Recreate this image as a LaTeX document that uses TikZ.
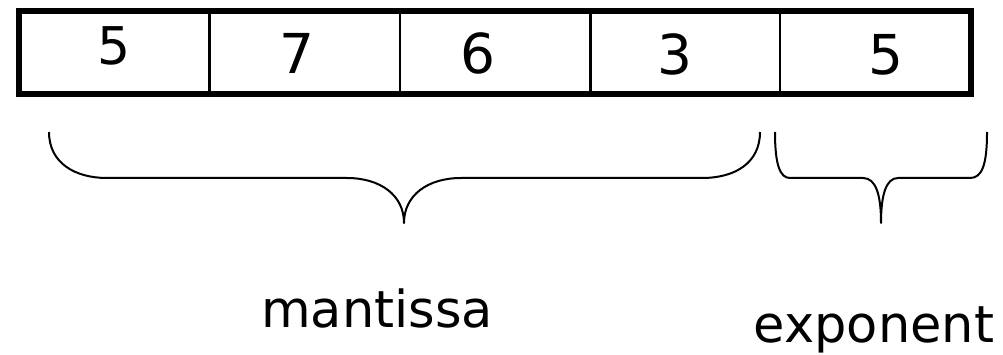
\documentclass[tikz,border=0pt]{standalone}
\usepackage{fontspec}
\setmainfont{DejaVu Sans}
\begin{document}
\begin{tikzpicture}[x=1pt,y=-1pt,
  digit/.style={anchor=base,inner sep=0pt,font=\fontsize{55}{60}\selectfont},
  label/.style={anchor=base,inner sep=0pt,font=\fontsize{51}{60}\selectfont},
  brace/.style={line width=2pt,line join=round}]
\useasboundingbox (0,0) rectangle (1003,355);
% cells
\foreach \x in {209.5,400,590.5,780} \draw[line width=2.5pt] (\x,11) -- (\x,94.5);
\draw[line width=6pt] (19,11) rectangle (971,94.5);
\node[digit,font=\fontsize{52}{60}\selectfont] (d1) at (114,65) {5};
\node[digit] (d2) at (297,73.5) {7};
\node[digit] (d3) at (478,74) {6};
\node[digit] (d4) at (675,74.5) {3};
\node[digit] (d5) at (886,74.5) {5};
% braces
\draw[brace] (49,132) .. controls (49,163) and (75,178) .. (107,178) -- (347,178)
  .. controls (380,178) and (404,195) .. (404,223)
  .. controls (404,195) and (428,178) .. (461,178) -- (702,178)
  .. controls (735,178) and (760,163) .. (760,132);
\draw[brace] (775,132) .. controls (775,165) and (780,178) .. (790,178) -- (863,178)
  .. controls (876,178) and (881,195) .. (881,223)
  .. controls (881,195) and (886,178) .. (898,178) -- (970,178)
  .. controls (982,178) and (987,165) .. (987,132);
\node[label] (mant) at (377,327) {mantissa};
\node[label] (expo) at (874,342) {exponent};
\end{tikzpicture}
\end{document}
